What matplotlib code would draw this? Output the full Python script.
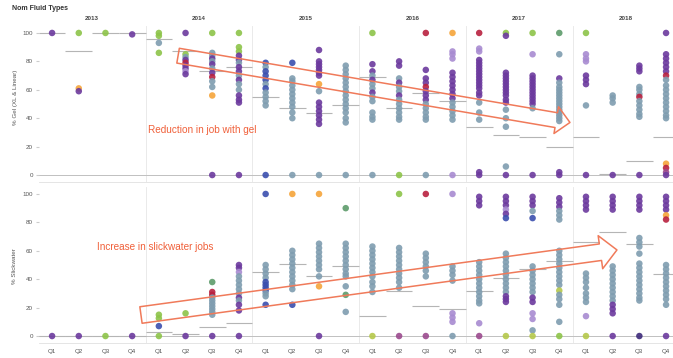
import numpy as np
import matplotlib
matplotlib.use("Agg")
import matplotlib.pyplot as plt
from matplotlib.patches import FancyArrowPatch

plt.rcParams['font.family'] = ['Liberation Sans', 'DejaVu Sans']

years = ['2013', '2014', '2015', '2016', '2017', '2018']
quarters = ['Q1', 'Q2', 'Q3', 'Q4'] * 6

# colour codes used in the strings below
palette = {'P': '#6c3a9e', 'S': '#7f9db0', 'G': '#8dc449', 'O': '#f5a43a',
           'R': '#b8213f', 'B': '#3b4fae', 'L': '#a88bd1', 'T': '#5d9b6b',
           'Y': '#b5c84a', 'M': '#9b4a8e', 'D': '#3d2a7a'}

# % Gel (XL & Linear), one list per quarter
gel_vals = [
    [100], [100, 61, 59], [100], [99],
    [100, 98, 93, 86],
    [100, 85, 83, 81, 79, 77, 75, 73, 71],
    [100, 86, 84, 82, 80, 78, 75, 72, 69, 66, 62, 56, 0],
    [100, 90, 87, 84, 81, 79, 76, 73, 70, 67, 64, 60, 56, 53, 51, 0],
    [79, 76, 73, 70, 67, 64, 61, 58, 55, 52, 49, 0],
    [79, 68, 66, 63, 60, 57, 54, 51, 48, 44, 40, 0],
    [88, 80, 78, 76, 74, 72, 70, 64, 59, 51, 48, 45, 42, 39, 36, 0],
    [77, 74, 71, 68, 65, 62, 59, 56, 53, 50, 47, 44, 40, 37, 0],
    [100, 78, 73, 70, 67, 64, 61, 58, 55, 52, 44, 41, 39, 0],
    [80, 77, 68, 65, 62, 59, 56, 53, 50, 47, 44, 41, 39, 0],
    [100, 74, 68, 65, 62, 59, 56, 53, 50, 47, 44, 41, 39, 0],
    [100, 87, 85, 82, 72, 69, 66, 63, 60, 57, 54, 51, 48, 45, 42, 39, 0],
    [100, 89, 87, 81, 79, 77, 75, 73, 71, 69, 67, 65, 63, 61, 58, 56, 51, 44, 39, 2, 0],
    [100, 98, 72, 70, 68, 66, 64, 62, 60, 58, 56, 53, 51, 46, 40, 34, 6, 0],
    [100, 85, 70, 68, 66, 64, 62, 60, 58, 56, 54, 52, 50, 47, 0],
    [100, 85, 68, 65, 62, 60, 58, 56, 54, 52, 50, 48, 46, 44, 42, 40, 38, 2, 0],
    [100, 85, 82, 80, 70, 67, 64, 49, 0],
    [56, 54, 51, 0],
    [77, 75, 73, 62, 60, 57, 55, 52, 49, 46, 43, 41, 0],
    [100, 85, 82, 79, 76, 73, 70, 67, 63, 60, 57, 54, 51, 48, 45, 42, 40, 8, 5, 2, 0],
]
gel_cols = [
    'P', 'GOP', 'G', 'P',
    'GGSG',
    'PGSPRPPLP',
    'GSSPSPSPRSSOP',
    'GGGPPSPPSPSSPPPP',
    'BSBBBSBSSSSB',
    'BSSSSSSSSSSS',
    'PPPPPPPOSPPPPPPS',
    'SSSSSSSSSSSSSSS',
    'GPPSPSSPSSSSSS',
    'PPSPSSPSSSSSSG',
    'RPPPRPPPSSSSSS',
    'OLLLPPPPPPPSSSSSL',
    'RLLPPPPPPPPPPPPPSSSPP',
    'GPPPPPPPPPPPPSSSSP',
    'GLPPPPPPPPPPPSP',
    'TSPSSSSSSSSSSSSSSPP',
    'GLLLPPPSP',
    'SSSP',
    'PPPSSSRSSSSSP',
    'PPPPPPRSSSSSSSSSSORMP',
]
gel_median = [100, 87, 100, 100, 96, 87, 73, 76, 55, 47, 44, 49,
              69, 47, 58, 52, 34, 28, 27, 20, 27, 1, 10, 27]

# % Slickwater, one list per quarter
slick_vals = [
    [0], [0], [0], [0],
    [15, 12.5, 7, 0],
    [16, 0],
    [38, 31, 29, 27, 25, 23, 21, 19, 17, 15, 0],
    [50, 48, 45, 42, 39, 36, 33, 30, 27, 25, 22, 18, 0],
    [100, 50, 47, 44, 41, 38, 36, 34, 32, 30, 28, 22],
    [100, 60, 57, 54, 51, 48, 45, 42, 39, 36, 33, 22],
    [100, 65, 62, 59, 56, 53, 50, 47, 42, 35, 0],
    [90, 65, 62, 59, 56, 53, 50, 47, 44, 42, 35, 29, 17],
    [63, 60, 57, 54, 51, 48, 45, 42, 38, 35, 31, 0],
    [100, 62, 59, 56, 53, 50, 47, 44, 41, 38, 34, 0],
    [100, 58, 55, 52, 49, 46, 42, 0],
    [100, 49, 46, 43, 39, 16, 13, 10, 0],
    [98, 95, 92, 52, 49, 46, 43, 40, 37, 34, 31, 28, 25, 23, 9, 0],
    [98, 95, 92, 89, 86, 83, 58, 55, 52, 49, 46, 43, 40, 37, 34, 31, 28, 26, 24, 0],
    [98, 95, 92, 88, 83, 49, 46, 43, 40, 37, 34, 31, 27, 24, 16, 12, 4, 0],
    [97, 94, 91, 88, 85, 82, 60, 57, 54, 51, 48, 45, 42, 39, 36, 32, 29, 26, 22, 10, 0],
    [98, 95, 92, 89, 44, 41, 38, 34, 30, 27, 24, 14, 0],
    [98, 95, 92, 89, 49, 46, 43, 40, 37, 34, 31, 28, 25, 22, 19, 16, 0],
    [98, 95, 92, 89, 69, 66, 63, 58, 51, 48, 45, 42, 39, 36, 33, 30, 27, 25, 0],
    [98, 95, 92, 89, 85, 82, 50, 47, 44, 41, 38, 35, 32, 29, 26, 22, 0],
]
slick_cols = [
    'P', 'P', 'G', 'P',
    'GGBG',
    'GP',
    'TRRSSSSSSSP',
    'PPLSSSSSPSPPP',
    'BSSSSBBBBSSB',
    'OSSSSSSSSSSB',
    'OSSSSSSSSOP',
    'TSSSSSSSSSSTS',
    'SSSSSSSSSSSY',
    'GSSSSSSSSSSM',
    'RSSSSSSM',
    'LSSSSLLLS',
    'PPPSSSSSSSSSSSLM',
    'PPPLPBSSSSSSSSSSPPPY',
    'PPPSBSSSSSSSPPLLSY',
    'PPPSSSSSSSSSSSSYSSSSG',
    'PPPPSSSSSSSLY',
    'PPPPSSSSSSSSSPPPP',
    'PPPPSSSSSSSSSSSSSSD',
    'PPPPORSSSSSSSSSSP',
]
slick_median = [0, 0, 0, 0, 3, 1.5, 6.5, 9, 45, 51, 42, 49,
                14, 32, 21, 19, 32, 41, 47, 53, 66, 73, 65, 44]

fig = plt.figure(figsize=(6.73, 3.58), dpi=100)
ax_top = fig.add_axes([39 / 673, 1 - 182 / 358, 634 / 673, 156 / 358])
ax_bot = fig.add_axes([39 / 673, 1 - 343 / 358, 634 / 673, 156 / 358])


def draw_panel(ax, vals, cols, medians):
    for i in range(len(vals)):
        x = np.full(len(vals[i]), i)
        c = [palette[k] for k in cols[i]]
        ax.scatter(x, vals[i], s=22, c=c, edgecolors='none', alpha=0.9, zorder=3)
        ax.hlines(medians[i], i - 0.5, i + 0.5, color='#b5b5b5', lw=0.8, zorder=2)
    ax.axhline(0, color='#c0c0c0', lw=0.7, zorder=1)
    for b in [3.5, 7.5, 11.5, 15.5, 19.5]:
        ax.axvline(b, color='#e6e6e6', lw=0.6, zorder=0)
    ax.set_xlim(-0.49, 23.26)
    ax.set_ylim(-4.9, 104.9)
    ax.set_yticks([0, 20, 40, 60, 80, 100])
    ax.tick_params(axis='y', labelsize=4.5, length=2, pad=2.5,
                   colors='#cccccc', labelcolor='#555555')
    for s in ['top', 'right', 'left']:
        ax.spines[s].set_visible(False)
    ax.spines['bottom'].set_color('#e0e0e0')
    ax.spines['bottom'].set_linewidth(0.6)


draw_panel(ax_top, gel_vals, gel_cols, gel_median)
draw_panel(ax_bot, slick_vals, slick_cols, slick_median)

ax_top.set_xticks([])
ax_bot.set_xticks(range(len(quarters)))
ax_bot.set_xticklabels(quarters)
ax_bot.tick_params(axis='x', labelsize=4.5, length=0, pad=4, labelcolor='#555555')

# year headers
for k, yr in enumerate(years):
    ax_top.text(1.5 + 4 * k, 1.05, yr, transform=ax_top.get_xaxis_transform(),
                ha='center', va='center', fontsize=4.5, fontweight='bold', color='#444444')

fig.text(12 / 673, 1 - 8 / 358, 'Nom Fluid Types', fontsize=5, fontweight='bold',
         color='#333333', va='center')
fig.text(15 / 673, 1 - 97 / 358, '% Gel (XL & Linear)', rotation=90, fontsize=4.5,
         color='#555555', ha='center', va='center')
fig.text(15 / 673, 1 - 266 / 358, '% Slickwater', rotation=90, fontsize=4.5,
         color='#555555', ha='center', va='center')

# annotation arrows
arr_top = FancyArrowPatch((4.72, 84), (19.4, 37),
                          arrowstyle='simple,tail_width=10.8,head_width=19.5,head_length=10',
                          shrinkA=0, shrinkB=0, facecolor='none', edgecolor='#f07a5a',
                          lw=1.1, zorder=4)
ax_top.add_patch(arr_top)
arr_bot = FancyArrowPatch((3.33, 14.8), (21.16, 60.6),
                          arrowstyle='simple,tail_width=12,head_width=24,head_length=12',
                          shrinkA=0, shrinkB=0, facecolor='none', edgecolor='#f07a5a',
                          lw=1.1, zorder=4)
ax_bot.add_patch(arr_bot)

ax_top.text(5.62, 31.7, 'Reduction in job with gel', color='#f0603a', fontsize=7.2,
            ha='center', va='center')
ax_bot.text(3.86, 62.7, 'Increase in slickwater jobs', color='#f0603a', fontsize=7.2,
            ha='center', va='center')

fig.savefig('out.png', dpi=100)
